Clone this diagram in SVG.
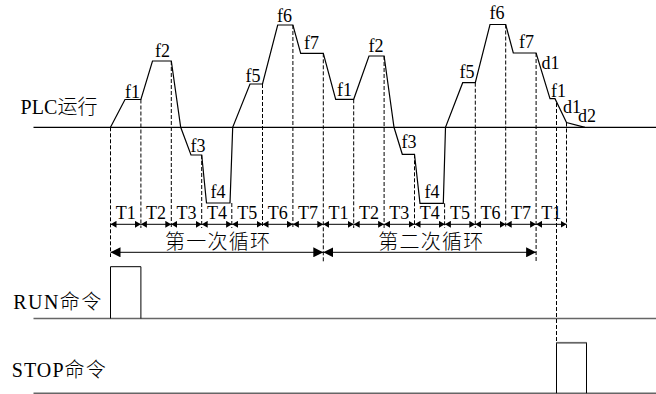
<svg xmlns="http://www.w3.org/2000/svg" width="656" height="394" viewBox="0 0 656 394">
<style>
.wave{fill:none;stroke:#000;stroke-width:1.2;stroke-linejoin:miter}
.base{fill:none;stroke:#000;stroke-width:1.2}
.gbase{fill:none;stroke:#666;stroke-width:1.6}
.dash{fill:none;stroke:#000;stroke-width:1;stroke-dasharray:4,2}
.dim{fill:none;stroke:#000;stroke-width:1}
.lab{font-family:"Liberation Serif","Times New Roman",serif;font-size:18px;fill:#000}
.tl{font-family:"Liberation Serif","Times New Roman",serif;font-size:18px;fill:#000;text-anchor:middle}
.big{font-family:"Liberation Serif","Noto Sans CJK SC",serif;font-size:20px;fill:#000}
.cjk{font-family:"Noto Sans CJK SC",sans-serif;font-size:20px;fill:#000;font-weight:300}
.pulse{fill:none;stroke:#000;stroke-width:1}
</style>
<defs>
<marker id="sa" viewBox="0 0 6 7" refX="6" refY="3.5" markerWidth="6" markerHeight="7" markerUnits="userSpaceOnUse" orient="auto-start-reverse">
<path d="M0,0 L6,3.5 L0,7 Z" fill="#000"/>
</marker>
<marker id="ba" viewBox="0 0 10 10" refX="10" refY="5" markerWidth="10" markerHeight="10" markerUnits="userSpaceOnUse" orient="auto-start-reverse">
<path d="M0,0 L10,5 L0,10 Z" fill="#000"/>
</marker>
</defs>

<g id="axes">
<line class="base" x1="33.5" y1="127.3" x2="656" y2="127.3"/>
<line class="gbase" x1="33.5" y1="318.5" x2="656" y2="318.5"/>
<line class="gbase" x1="33.5" y1="393.2" x2="656" y2="393.2"/>
</g>

<g id="labels-left">
<text class="big" x="20.5" y="114.3" textLength="77"><tspan>PLC</tspan><tspan class="cjk">运行</tspan></text>
<text class="big" x="13.3" y="309" textLength="88"><tspan>RUN</tspan><tspan class="cjk">命令</tspan></text>
<text class="big" x="11.7" y="377" textLength="94"><tspan>STOP</tspan><tspan class="cjk">命令</tspan></text>
</g>

<g id="connectors">
<g id="guides">
<line class="dash" x1="110.5" y1="127.3" x2="110.5" y2="257"/>
<line class="dash" x1="140.9" y1="99.5" x2="140.9" y2="228"/>
<line class="dash" x1="171.3" y1="61" x2="171.3" y2="228"/>
<line class="dash" x1="201.7" y1="155" x2="201.7" y2="228"/>
<line class="dash" x1="231.8" y1="203" x2="231.8" y2="228"/>
<line class="dash" x1="262.5" y1="84" x2="262.5" y2="228"/>
<line class="dash" x1="292.9" y1="25" x2="292.9" y2="228"/>
<line class="dash" x1="323.3" y1="53.3" x2="323.3" y2="262"/>
<line class="dash" x1="353.7" y1="99.3" x2="353.7" y2="228"/>
<line class="dash" x1="384.1" y1="56" x2="384.1" y2="228"/>
<line class="dash" x1="414.5" y1="154.3" x2="414.5" y2="228"/>
<line class="dash" x1="444.6" y1="203.3" x2="444.6" y2="228"/>
<line class="dash" x1="475.3" y1="82.7" x2="475.3" y2="228"/>
<line class="dash" x1="505.7" y1="24.5" x2="505.7" y2="228"/>
<line class="dash" x1="536.1" y1="53" x2="536.1" y2="262"/>
<line class="dash" x1="556.5" y1="103" x2="556.5" y2="342.7"/>
<line class="dash" x1="566.5" y1="122.5" x2="566.5" y2="228"/>
</g>
<g id="t-dims">
<line class="dim" x1="110.5" y1="224.3" x2="140.9" y2="224.3" marker-start="url(#sa)" marker-end="url(#sa)"/>
<line class="dim" x1="140.9" y1="224.3" x2="171.3" y2="224.3" marker-start="url(#sa)" marker-end="url(#sa)"/>
<line class="dim" x1="171.3" y1="224.3" x2="201.7" y2="224.3" marker-start="url(#sa)" marker-end="url(#sa)"/>
<line class="dim" x1="201.7" y1="224.3" x2="232.1" y2="224.3" marker-start="url(#sa)" marker-end="url(#sa)"/>
<line class="dim" x1="232.1" y1="224.3" x2="262.5" y2="224.3" marker-start="url(#sa)" marker-end="url(#sa)"/>
<line class="dim" x1="262.5" y1="224.3" x2="292.9" y2="224.3" marker-start="url(#sa)" marker-end="url(#sa)"/>
<line class="dim" x1="292.9" y1="224.3" x2="323.3" y2="224.3" marker-start="url(#sa)" marker-end="url(#sa)"/>
<line class="dim" x1="323.3" y1="224.3" x2="353.7" y2="224.3" marker-start="url(#sa)" marker-end="url(#sa)"/>
<line class="dim" x1="353.7" y1="224.3" x2="384.1" y2="224.3" marker-start="url(#sa)" marker-end="url(#sa)"/>
<line class="dim" x1="384.1" y1="224.3" x2="414.5" y2="224.3" marker-start="url(#sa)" marker-end="url(#sa)"/>
<line class="dim" x1="414.5" y1="224.3" x2="444.9" y2="224.3" marker-start="url(#sa)" marker-end="url(#sa)"/>
<line class="dim" x1="444.9" y1="224.3" x2="475.3" y2="224.3" marker-start="url(#sa)" marker-end="url(#sa)"/>
<line class="dim" x1="475.3" y1="224.3" x2="505.7" y2="224.3" marker-start="url(#sa)" marker-end="url(#sa)"/>
<line class="dim" x1="505.7" y1="224.3" x2="536.1" y2="224.3" marker-start="url(#sa)" marker-end="url(#sa)"/>
<line class="dim" x1="536.1" y1="224.3" x2="566.5" y2="224.3" marker-start="url(#sa)" marker-end="url(#sa)"/>
</g>
<g id="cycle-dims">
<line class="dim" x1="110.5" y1="252.3" x2="323.3" y2="252.3" marker-start="url(#ba)" marker-end="url(#ba)"/>
<line class="dim" x1="323.3" y1="252.3" x2="536.1" y2="252.3" marker-start="url(#ba)" marker-end="url(#ba)"/>
</g>
</g>

<g id="waveform">
<polyline class="wave" points="110.5,127.3 125,99.5 140.9,99.5 152.5,61 171.3,61 180.7,127.3 191,155 201.7,155 206.5,203 230,203 232.7,127.3 250,84 262.5,84 277.7,25 292.9,25 300.7,53.3 323.3,53.3 335.7,99.3 353.7,99.3 369,56 384.1,56 394,127.3 402.3,154.3 414.5,154.3 420,203.3 443.3,203.3 445.5,127.3 462.7,82.7 475.3,82.7 490,24.5 505.7,24.5 513.3,53 536.1,53 550,98.7 555,98.7 566.5,122.5 585,127.3"/>
</g>

<g id="freq-labels">
<text class="lab" x="125" y="97.5">f1</text>
<text class="lab" x="155" y="57.3">f2</text>
<text class="lab" x="190.5" y="152.3">f3</text>
<text class="lab" x="210.5" y="197.5">f4</text>
<text class="lab" x="245.5" y="81.7">f5</text>
<text class="lab" x="277" y="21.7">f6</text>
<text class="lab" x="304" y="49.3">f7</text>
<text class="lab" x="337" y="96">f1</text>
<text class="lab" x="368.5" y="51.7">f2</text>
<text class="lab" x="401.5" y="148.3">f3</text>
<text class="lab" x="424.5" y="197.5">f4</text>
<text class="lab" x="459.5" y="78.3">f5</text>
<text class="lab" x="489.5" y="19.3">f6</text>
<text class="lab" x="519" y="47.7">f7</text>
<text class="lab" x="541.5" y="69.3">d1</text>
<text class="lab" x="551" y="96.7">f1</text>
<text class="lab" x="563" y="112.7">d1</text>
<text class="lab" x="578" y="121.7">d2</text>
</g>

<g id="t-labels">
<text class="tl" x="125.7" y="218.5">T1</text>
<text class="tl" x="156.1" y="218.5">T2</text>
<text class="tl" x="186.5" y="218.5">T3</text>
<text class="tl" x="216.9" y="218.5">T4</text>
<text class="tl" x="247.3" y="218.5">T5</text>
<text class="tl" x="277.7" y="218.5">T6</text>
<text class="tl" x="308.1" y="218.5">T7</text>
<text class="tl" x="338.5" y="218.5">T1</text>
<text class="tl" x="368.9" y="218.5">T2</text>
<text class="tl" x="399.3" y="218.5">T3</text>
<text class="tl" x="429.7" y="218.5">T4</text>
<text class="tl" x="460.1" y="218.5">T5</text>
<text class="tl" x="490.5" y="218.5">T6</text>
<text class="tl" x="520.9" y="218.5">T7</text>
<text class="tl" x="551.3" y="218.5">T1</text>
</g>

<g id="cycle-labels">
<text class="cjk" x="165" y="248.5" textLength="105">第一次循环</text>
<text class="cjk" x="378.3" y="248.5" textLength="105">第二次循环</text>
</g>

<g id="run-pulse">
<polyline class="pulse" points="110.5,318.5 110.5,266.7 140.9,266.7 140.9,318.5"/>
</g>
<g id="stop-pulse">
<polyline class="pulse" points="556.5,393.2 556.5,342.7 586.5,342.7 586.5,393.2"/>
<line x1="556.5" y1="342.7" x2="586.5" y2="342.7" stroke="#666" stroke-width="1.6"/>
</g>
</svg>
